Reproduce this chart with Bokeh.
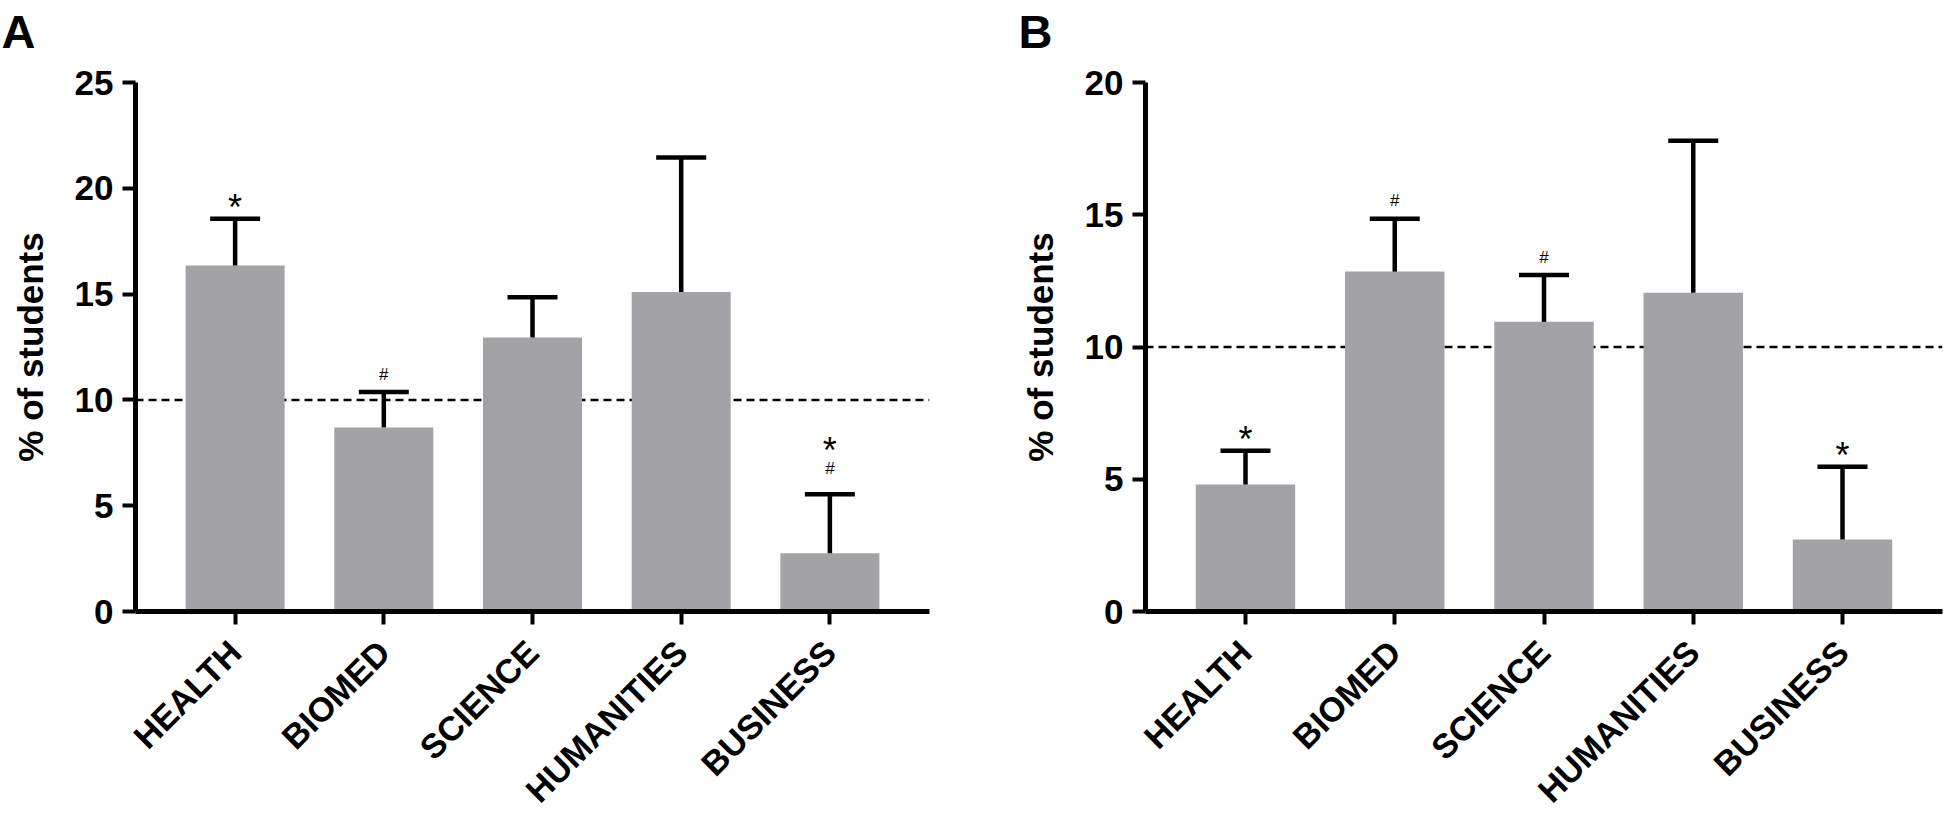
import math
from bokeh.plotting import figure
from bokeh.models import (FactorRange, Range1d, Span, Whisker, TeeHead,
                          ColumnDataSource, Title)
from bokeh.layouts import row
from bokeh.embed import file_html
from bokeh.resources import INLINE
from bokeh.core.properties import value

# ---------------- data ----------------
categories = ["HEALTH", "BIOMED", "SCIENCE", "HUMANITIES", "BUSINESS"]

a_means = [16.35, 8.7, 12.95, 15.1, 2.75]
a_upper = [18.56, 10.37, 14.85, 21.45, 5.54]
a_marks = ["*", "#", "", "", "*#"]
a_ticks = [0, 5, 10, 15, 20, 25]

b_means = [4.8, 12.85, 10.95, 12.05, 2.72]
b_upper = [6.08, 14.85, 12.72, 17.8, 5.47]
b_marks = ["*", "#", "#", "", "*"]
b_ticks = [0, 5, 10, 15, 20]

reference_level = 10
y_title = "% of students"

FONT = "Liberation Sans"
BAR = "#a3a2a7"


def make_panel(letter, means, upper, marks, ticks, width, border_left,
               border_right, letter_offset):
    ymax = ticks[-1]
    p = figure(
        x_range=FactorRange(*categories, range_padding=0.17,
                            range_padding_units="absolute"),
        y_range=Range1d(0, ymax),
        width=width, height=825,
        min_border_left=border_left, min_border_right=border_right,
        min_border_top=82, min_border_bottom=214,
        output_backend="svg", toolbar_location=None,
    )
    p.outline_line_color = None
    p.xgrid.visible = False
    p.ygrid.visible = False
    p.background_fill_color = "white"
    p.border_fill_color = "white"

    # panel letter (title) with an empty spacer panel below it
    p.title.text = letter
    p.title.text_font = FONT
    p.title.text_font_style = "bold"
    p.title.text_font_size = "47px"
    p.title.text_color = "black"
    p.title.align = "left"
    p.title.vertical_align = "top"
    p.title.offset = letter_offset
    p.title.standoff = 0
    p.add_layout(Title(text=" ", text_font_size="1px", standoff=20),
                 "above")

    for ax in (p.xaxis[0], p.yaxis[0]):
        ax.axis_line_width = 5
        ax.axis_line_color = "black"
        ax.major_tick_line_width = 4
        ax.major_tick_line_color = "black"
        ax.major_tick_out = 13
        ax.major_tick_in = 0
        ax.minor_tick_line_color = None
        ax.major_label_text_font = FONT
        ax.major_label_text_font_style = "bold"
        ax.major_label_text_color = "black"
    p.yaxis[0].major_label_text_font_size = "35px"
    p.yaxis[0].major_label_standoff = 9
    p.yaxis[0].ticker = ticks
    p.yaxis[0].axis_label = y_title
    p.yaxis[0].axis_label_text_font = FONT
    p.yaxis[0].axis_label_text_font_style = "bold"
    p.yaxis[0].axis_label_text_font_size = "35px"
    p.yaxis[0].axis_label_text_color = "black"
    p.yaxis[0].axis_label_standoff = 22
    p.xaxis[0].major_label_text_font_size = "34px"
    p.xaxis[0].major_label_orientation = math.pi / 4
    p.xaxis[0].major_label_standoff = 22

    p.add_layout(Span(location=reference_level, dimension="width",
                      line_color="black", line_width=2.5, line_dash="8 5",
                      level="underlay"))

    p.vbar(x=categories, top=means, width=0.666, fill_color=BAR,
           line_color=None)

    src = ColumnDataSource(dict(base=categories, lower=means, upper=upper))
    w = Whisker(base="base", lower="lower", upper="upper", source=src,
                line_width=4.5, line_color="black",
                upper_head=TeeHead(size=50, line_width=4.5,
                                   line_color="black"),
                lower_head=None, level="annotation")
    p.add_layout(w)

    sx, sy, so, hx, hy, ho = [], [], [], [], [], []
    for c, u, m in zip(categories, upper, marks):
        if "*" in m:
            sx.append(c); sy.append(u); so.append(-44 if "#" in m else -11)
        if "#" in m:
            hx.append(c); hy.append(u); ho.append(-26 if "*" in m else -18)
    p.text(x=sx, y=sy, y_offset=so, text=["*"] * len(sx),
           text_font=value(FONT), text_font_size="36px",
           text_align="center", text_baseline="alphabetic",
           text_color="black")
    p.text(x=hx, y=hy, y_offset=ho, text=["#"] * len(hx),
           text_font=value(FONT), text_font_size="17px",
           text_align="center", text_baseline="alphabetic",
           text_color="black")
    return p


pA = make_panel("A", a_means, a_upper, a_marks, a_ticks,
                width=1017, border_left=135, border_right=88,
                letter_offset=-134)
pB = make_panel("B", b_means, b_upper, b_marks, b_ticks,
                width=927, border_left=127, border_right=2,
                letter_offset=-127)

layout = row(pA, pB)
open("out.html", "w").write(file_html(layout, INLINE))
